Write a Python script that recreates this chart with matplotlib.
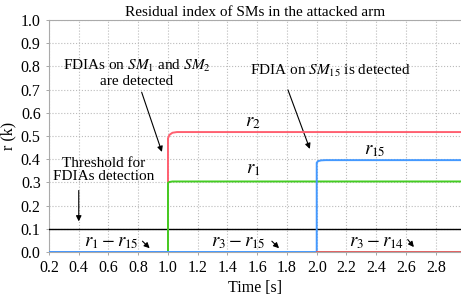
import matplotlib
matplotlib.use("Agg")
import matplotlib.pyplot as plt

plt.rcParams['font.family'] = ['Liberation Serif', 'DejaVu Serif']
plt.rcParams['mathtext.fontset'] = 'stix'

# data
t_r2 = [0.2, 1.0, 1.0, 1.01, 1.03, 1.06, 3.0]
r2 = [0.0, 0.0, 0.49, 0.505, 0.514, 0.517, 0.517]
t_r1 = [1.0, 1.0, 1.01, 1.03, 3.0]
r1 = [0.0, 0.298, 0.302, 0.304, 0.304]
t_r15 = [0.2, 2.0, 2.0, 2.01, 2.03, 2.06, 3.0]
r15 = [0.0, 0.0, 0.385, 0.392, 0.395, 0.396, 0.396]
t_r3_14 = [2.0, 3.0]
r3_14 = [0.0, 0.0]
t_thr = [0.2, 3.0]
thr = [0.1, 0.1]

xticks = [0.2, 0.4, 0.6, 0.8, 1.0, 1.2, 1.4, 1.6, 1.8, 2.0, 2.2, 2.4, 2.6, 2.8]
yticks = [0.0, 0.1, 0.2, 0.3, 0.4, 0.5, 0.6, 0.7, 0.8, 0.9, 1.0]

fig = plt.figure(figsize=(4.61, 2.95), dpi=100)
ax = fig.add_axes([49/461, 1 - 252/295, (461 - 49)/461, (252 - 20)/295])

ax.plot(t_thr, thr, color='black', lw=1.0, zorder=3)
ax.plot(t_r2, r2, color='#ff6070', lw=1.4, zorder=4)
ax.plot(t_r1, r1, color='#44cc22', lw=1.4, zorder=4)
ax.plot(t_r15, r15, color='#4499ff', lw=1.4, zorder=4)
ax.plot(t_r3_14, r3_14, color='#e06060', lw=1.4, zorder=5)

ax.set_xlim(0.2, 2.97)
ax.set_ylim(0, 1.0)
ax.set_xticks(xticks)
ax.set_yticks(yticks)
ax.set_xticklabels([f"{v:.1f}" for v in xticks])
ax.set_yticklabels([f"{v:.1f}" for v in yticks])
ax.tick_params(labelsize=11.5, length=2, width=0.6, color='#999999', pad=4)
ax.grid(True, color='#bbbbbb', linestyle=':', lw=0.8)
for s in ['left', 'top', 'bottom']:
    ax.spines[s].set_color('#aaaaaa')
    ax.spines[s].set_linewidth(0.8)
ax.spines['right'].set_visible(False)

ax.set_title('Residual index of SMs in the attacked arm', fontsize=11, pad=3)
ax.set_xlabel('Time [s]', fontsize=11.5, labelpad=3)
ax.set_ylabel('r (k)', fontsize=11.5, labelpad=3)

fs = 11
ms = 13.5
ap = dict(arrowstyle='-|>', color='black', lw=0.8, mutation_scale=8)

ax.text(0.79, 0.77, 'FDIAs on $SM_1$ and $SM_2$\nare detected',
        ha='center', va='center', fontsize=fs, linespacing=1.1)
ax.annotate('', xy=(0.965, 0.42), xytext=(0.817, 0.70), arrowprops=ap)

ax.text(2.09, 0.78, 'FDIA on $SM_{15}$ is detected', ha='center', va='center', fontsize=fs)
ax.annotate('', xy=(1.96, 0.433), xytext=(1.80, 0.71), arrowprops=ap)

ax.text(0.57, 0.355, 'Threshold for\nFDIAs detection', ha='center', va='center',
        fontsize=fs, linespacing=1.0)
ax.annotate('', xy=(0.40, 0.12), xytext=(0.40, 0.277), arrowprops=ap)

ax.text(0.616, 0.04, '$r_1 - r_{15}$', ha='center', va='center', fontsize=ms)
ax.annotate('', xy=(0.89, 0.008), xytext=(0.815, 0.055), arrowprops=ap)
ax.text(1.47, 0.04, '$r_3 - r_{15}$', ha='center', va='center', fontsize=ms)
ax.annotate('', xy=(1.76, 0.008), xytext=(1.685, 0.055), arrowprops=ap)
ax.text(2.40, 0.04, '$r_3 - r_{14}$', ha='center', va='center', fontsize=ms)
ax.annotate('', xy=(2.665, 0.012), xytext=(2.60, 0.063), arrowprops=ap)

ax.text(1.57, 0.56, '$r_2$', ha='center', va='center', fontsize=ms)
ax.text(1.57, 0.355, '$r_1$', ha='center', va='center', fontsize=ms)
ax.text(2.39, 0.438, '$r_{15}$', ha='center', va='center', fontsize=ms)

fig.savefig('out.png', dpi=100)
